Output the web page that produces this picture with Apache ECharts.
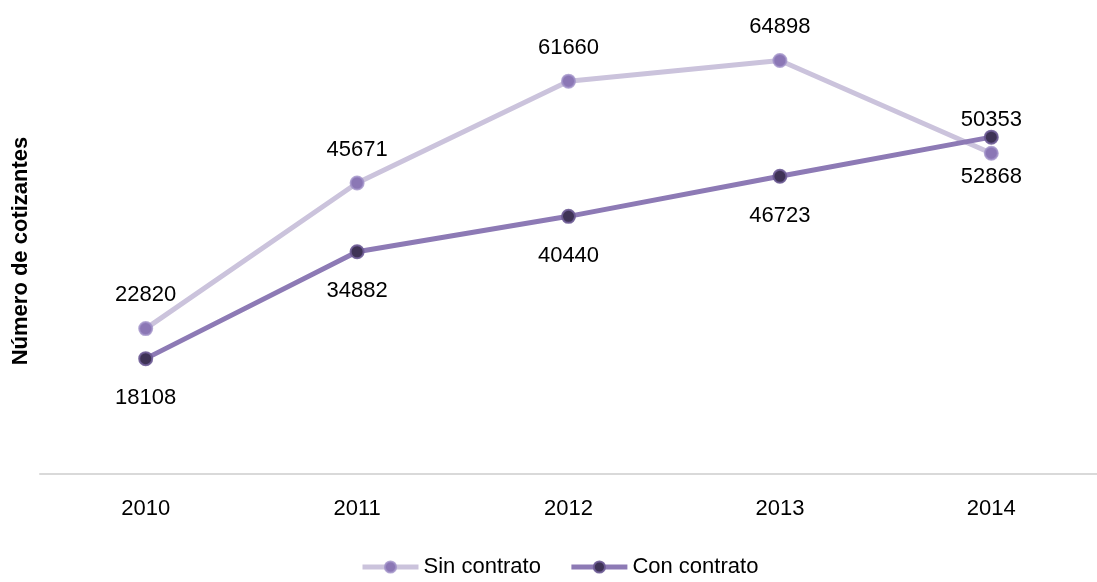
<!DOCTYPE html>
<html>
<head>
<meta charset="utf-8">
<script src="https://cdn.jsdelivr.net/npm/echarts@6/dist/echarts.min.js"></script>
<style>html,body{margin:0;padding:0;background:#fff}#c{width:1097px;height:582px}</style>
</head>
<body>
<div id="c"></div>
<script>
const categories = ['2010', '2011', '2012', '2013', '2014'];
const sinContrato = [22820, 45671, 61660, 64898, 50353];
const conContrato = [18108, 34882, 40440, 46723, 52868];
const seriesNames = ['Sin contrato', 'Con contrato'];

const chart = echarts.init(document.getElementById('c'));
const font = '"Liberation Sans", Arial, sans-serif';
chart.setOption({
  backgroundColor: '#fff',
  textStyle: { fontFamily: font },
  grid: { left: 40, right: -10, top: 28, bottom: 108 },
  legend: {
    bottom: -1, left: 355,
    itemWidth: 56, itemHeight: 14, itemGap: 28,
    lineStyle: { width: 5 },
    textStyle: { fontSize: 22, color: '#000', fontFamily: font, padding: [0, 0, 0, 0] },
    data: seriesNames
  },
  xAxis: {
    type: 'category', data: categories, boundaryGap: true,
    axisLine: { lineStyle: { color: '#d9d9d9', width: 2 } },
    axisTick: { show: false },
    axisLabel: { fontSize: 22, color: '#000', margin: 24, fontFamily: font }
  },
  yAxis: {
    type: 'value', min: 0, max: 70000,
    name: 'Número de cotizantes', nameLocation: 'middle', nameGap: 8,
    nameTextStyle: { fontSize: 22, fontWeight: 'bold', color: '#000', fontFamily: font },
    axisLine: { show: false }, axisTick: { show: false },
    axisLabel: { show: false }, splitLine: { show: false }
  },
  series: [
    {
      name: seriesNames[0], type: 'line', data: sinContrato,
      symbol: 'circle', symbolSize: 13,
      lineStyle: { color: '#cbc3dc', width: 5 },
      itemStyle: { color: '#8b77b5', borderColor: 'rgba(160,145,200,0.8)', borderWidth: 2 },
      label: { show: true, position: 'top', distance: 15, fontSize: 22, color: '#000', fontFamily: font },
      z: 2
    },
    {
      name: seriesNames[1], type: 'line', data: conContrato,
      symbol: 'circle', symbolSize: 13,
      lineStyle: { color: '#8d7ab5', width: 5 },
      itemStyle: { color: '#3f3356', borderColor: 'rgba(110,92,150,0.9)', borderWidth: 2 },
      label: { show: true, position: 'bottom', distance: 21, fontSize: 22, color: '#000', fontFamily: font },
      z: 3
    }
  ]
});
</script>
</body>
</html>
